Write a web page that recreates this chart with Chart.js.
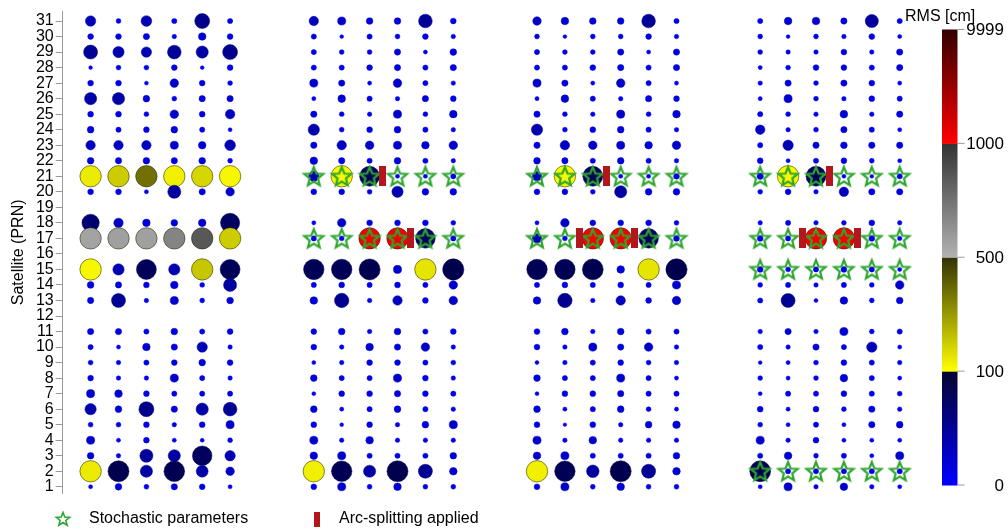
<!DOCTYPE html>
<html>
<head>
<meta charset="utf-8">
<script src="https://cdn.jsdelivr.net/npm/chart.js@4.4.4/dist/chart.umd.min.js"></script>
<style>
  html, body { margin: 0; padding: 0; background: #fff; }
  #wrap { width: 1008px; height: 532px; }
</style>
</head>
<body>
<div id="wrap"><canvas id="chart" width="1008" height="532"></canvas></div>
<script>
// satellites that have rows (12, 16, 19 have no data)
const sats = [31,30,29,28,27,26,25,24,23,22,21,20,18,17,15,14,13,11,10,9,8,7,6,5,4,3,2,1];
const yTicks = Array.from({length: 31}, (_, i) => i + 1);

// RMS [cm] per satellite row, 6 solutions per panel
const panel1Rms = [
  [40,10,42,12,65,12], [15,15,18,8,25,15], [60,45,40,58,50,65], [4,10,10,15,4,15],
  [15,15,5,30,15,10], [50,50,20,10,18,18], [15,15,10,30,15,35], [20,12,15,20,12,5],
  [35,35,35,28,25,42], [20,18,20,18,20,10], [140,200,380,130,180,115], [15,15,6,55,18,30],
  [78,35,25,20,25,88], [560,570,570,680,850,200], [115,45,92,45,210,92], [20,18,15,25,10,55],
  [18,60,8,28,10,20], [18,18,12,20,12,15], [12,6,25,18,40,8], [10,8,12,15,20,15],
  [15,8,8,28,12,8], [28,25,15,12,12,12], [45,20,65,18,50,58], [10,10,15,8,15,28],
  [28,6,15,6,5,10], [20,8,55,50,90,40], [140,98,50,96,48,30], [6,20,10,18,15,6]
];
const panel2Rms = [
  [35,28,20,20,58,15], [12,4,12,10,15,8], [12,10,10,18,6,20], [12,12,15,18,12,18],
  [28,18,6,30,12,8], [6,25,12,8,18,15], [18,10,8,28,10,25], [45,10,15,20,12,8],
  [18,35,30,28,25,30], [25,18,12,20,12,8], [40,110,92,6,6,12], [15,15,10,45,20,20],
  [6,30,15,15,15,10], [12,10,1500,1500,90,12], [95,95,98,28,150,99], [12,15,12,15,12,30],
  [25,62,8,35,15,30], [15,20,8,20,12,15], [15,8,25,18,30,8], [5,8,15,15,12,10],
  [20,12,12,28,15,8], [5,15,15,18,15,12], [20,6,12,20,12,8], [15,4,15,8,20,28],
  [28,8,25,8,8,8], [25,28,12,12,12,20], [130,95,50,98,60,25], [15,28,10,25,10,10]
];
const panel3Rms = [
  [30,25,20,20,58,12], [10,4,10,10,15,8], [12,10,10,18,6,18], [12,12,15,18,12,18],
  [28,18,6,30,12,6], [6,25,12,8,18,15], [18,10,8,28,10,25], [45,10,15,20,12,8],
  [18,35,30,28,25,30], [20,18,12,20,12,8], [35,110,92,6,6,15], [15,15,10,50,20,20],
  [6,30,15,15,15,10], [35,10,1400,1500,90,15], [95,95,97,25,150,99], [12,15,12,15,12,28],
  [25,62,8,35,15,30], [15,20,8,20,12,12], [15,8,28,18,30,8], [5,8,12,15,10,8],
  [20,12,12,28,12,6], [5,15,15,18,12,12], [20,6,12,20,10,6], [15,3,15,8,20,25],
  [28,8,25,8,8,8], [25,28,12,12,12,20], [130,95,52,98,60,25], [15,28,10,25,10,10]
];
const panel4Rms = [
  [12,25,25,18,55,12], [10,4,10,8,15,6], [10,8,8,15,8,18], [6,10,15,15,12,18],
  [8,18,10,18,15,6], [6,28,10,8,15,12], [12,10,8,25,8,18], [35,8,10,18,12,6],
  [12,40,18,20,18,18], [15,6,12,15,10,6], [18,110,92,5,4,12], [10,15,8,35,18,18],
  [8,12,8,10,15,8], [15,12,1400,1500,15,8], [15,10,12,15,12,6], [10,12,8,12,10,30],
  [12,60,5,25,10,20], [8,18,8,28,10,12], [12,8,18,12,40,6], [4,6,10,15,12,8],
  [10,6,10,25,12,6], [5,12,12,15,12,10], [15,6,15,10,18,8], [10,6,12,6,18,20],
  [28,8,15,6,6,6], [12,25,10,12,6,28], [97,12,12,12,12,12], [6,28,8,25,8,6]
];

// satellites with stochastic parameters, per panel (all 6 solutions)
const starSats = [[], [21,17], [21,17], [21,17,15,2]];

// arc-splitting marks: panel, solution, satellite, side
const arcPanel = [1, 1, 2, 2, 2, 3, 3, 3];
const arcCol   = [2, 3, 2, 2, 3, 2, 2, 3];
const arcSat   = [21, 17, 21, 17, 17, 21, 17, 17];
const arcSide  = [1, 1, 1, -1, 1, 1, -1, 1];

const cbBounds = [0, 100, 500, 1000, 9999];

const FONT = "'Liberation Sans', Arial, Helvetica, sans-serif";

function lerp(a, b, t) {
  return a.map((v, i) => Math.round(v + (b[i] - v) * t));
}
// colour segments for the bar: bottom colour -> top colour
const segColors = [
  [[0,0,255], [5,5,45]],
  [[255,255,0], [50,50,5]],
  [[178,178,178], [50,50,50]],
  [[255,0,0], [50,0,0]]
];
// dots come out a bit lighter than the bar in the blue range
const dotColors = [
  [[0,0,255], [0,0,75]],
  segColors[1], segColors[2], segColors[3]
];
function rmsColor(v) {
  let s = 0;
  while (s < 3 && v >= cbBounds[s + 1]) s++;
  const t = Math.min(1, (v - cbBounds[s]) / (cbBounds[s + 1] - cbBounds[s]));
  const c = lerp(dotColors[s][0], dotColors[s][1], t);
  return `rgb(${c[0]},${c[1]},${c[2]})`;
}
function rmsRadius(v) {
  return Math.min(10.7, 1.5 + 0.092 * v);
}

// build datasets
const panels = [panel1Rms, panel2Rms, panel3Rms, panel4Rms];
const dots = [];
panels.forEach((rows, p) => {
  rows.forEach((row, i) => {
    row.forEach((v, c) => dots.push({ x: p * 8 + c, y: sats[i], rms: v }));
  });
});
const stars = [];
starSats.forEach((list, p) => {
  list.forEach(s => { for (let c = 0; c < 6; c++) stars.push({ x: p * 8 + c, y: s }); });
});
const arcs = arcPanel.map((p, i) => ({ x: p * 8 + arcCol[i] + 0.48 * arcSide[i], y: arcSat[i] }));

function starPath(ctx, cx, cy, R, r) {
  ctx.beginPath();
  for (let k = 0; k < 10; k++) {
    const a = -Math.PI / 2 + k * Math.PI / 5;
    const rr = k % 2 === 0 ? R : r;
    const px = cx + rr * Math.cos(a), py = cy + rr * Math.sin(a);
    if (k === 0) ctx.moveTo(px, py); else ctx.lineTo(px, py);
  }
  ctx.closePath();
}

const starImg = document.createElement('canvas');
starImg.width = 26; starImg.height = 26;
(function () {
  const g = starImg.getContext('2d');
  starPath(g, 13, 13.8, 10, 4.4);
  g.strokeStyle = '#2fa52f';
  g.lineWidth = 2.2;
  g.lineJoin = 'miter';
  g.stroke();
})();

const barImg = document.createElement('canvas');
barImg.width = 7; barImg.height = 20;
(function () {
  const g = barImg.getContext('2d');
  g.fillStyle = '#b3161b';
  g.fillRect(0, 0, 7, 20);
})();

const extrasPlugin = {
  id: 'extras',
  afterDraw(chart) {
    const ctx = chart.ctx;
    ctx.save();
    // colour bar
    const left = 942, right = 957.5, top = 29.5, bottom = 485;
    const segH = (bottom - top) / 4;
    for (let s = 0; s < 4; s++) {
      const y0 = bottom - s * segH, y1 = y0 - segH;
      const gr = ctx.createLinearGradient(0, y0, 0, y1);
      const c0 = segColors[s][0], c1 = segColors[s][1];
      gr.addColorStop(0, `rgb(${c0})`);
      gr.addColorStop(1, `rgb(${c1})`);
      ctx.fillStyle = gr;
      ctx.fillRect(left, y1, right - left, segH + 0.5);
    }
    ctx.strokeStyle = '#999';
    ctx.lineWidth = 1;
    ctx.fillStyle = '#000';
    ctx.font = `17px ${FONT}`;
    ctx.textAlign = 'right';
    ctx.textBaseline = 'middle';
    cbBounds.forEach((b, i) => {
      const y = bottom - i * segH;
      ctx.beginPath();
      ctx.moveTo(right, y);
      ctx.lineTo(right + 7, y);
      ctx.stroke();
      ctx.fillText(String(b), 1004, y + 1);
    });
    ctx.textAlign = 'left';
    ctx.font = `16px ${FONT}`;
    ctx.fillText('RMS [cm]', 905, 17);

    // bottom legend
    starPath(ctx, 63, 519.5, 7, 3);
    ctx.strokeStyle = '#2fa52f';
    ctx.lineWidth = 1.6;
    ctx.stroke();
    ctx.fillStyle = '#000';
    ctx.font = `16px ${FONT}`;
    ctx.textBaseline = 'middle';
    ctx.fillText('Stochastic parameters', 89, 519);
    ctx.fillStyle = '#b3161b';
    ctx.fillRect(314, 512, 6, 15);
    ctx.fillStyle = '#000';
    ctx.fillText('Arc-splitting applied', 339, 519);
    ctx.restore();
  }
};

new Chart(document.getElementById('chart'), {
  type: 'scatter',
  data: {
    datasets: [
      {
        label: 'Arc-splitting applied',
        data: arcs,
        pointStyle: barImg,
        pointRadius: 5,
        order: 0
      },
      {
        label: 'Stochastic parameters',
        data: stars,
        pointStyle: starImg,
        pointRadius: 5,
        order: 1
      },
      {
        label: 'RMS',
        data: dots,
        order: 2,
        pointRadius: ctx => rmsRadius(ctx.raw.rms),
        pointHoverRadius: ctx => rmsRadius(ctx.raw.rms),
        pointBackgroundColor: ctx => rmsColor(ctx.raw.rms),
        pointBorderColor: ctx => ctx.raw.rms >= 100 ? 'rgba(40,40,0,0.55)' : rmsColor(ctx.raw.rms),
        pointBorderWidth: ctx => ctx.raw.rms >= 100 ? 1 : 0.5
      }
    ]
  },
  options: {
    responsive: false,
    animation: false,
    devicePixelRatio: 1,
    layout: { padding: { left: 0, top: 4.5, right: 80.4, bottom: 39 } },
    plugins: { legend: { display: false }, tooltip: { enabled: false } },
    scales: {
      x: { type: 'linear', min: -1, max: 30, display: false },
      y: {
        type: 'linear',
        min: 0.6,
        max: 31.6,
        afterBuildTicks: axis => { axis.ticks = yTicks.map(v => ({ value: v })); },
        afterFit: axis => { axis.width = 62.7; },
        ticks: { autoSkip: false, color: '#000', padding: 2, font: { family: FONT, size: 16 } },
        grid: { drawOnChartArea: false, drawTicks: true, tickLength: 7, color: '#9a9a9a' },
        border: { display: true, color: '#9a9a9a' },
        title: {
          display: true,
          text: 'Satellite (PRN)',
          color: '#000',
          font: { family: FONT, size: 16 },
          padding: { top: 9, bottom: 0 }
        }
      }
    }
  },
  plugins: [extrasPlugin]
});
</script>
</body>
</html>
